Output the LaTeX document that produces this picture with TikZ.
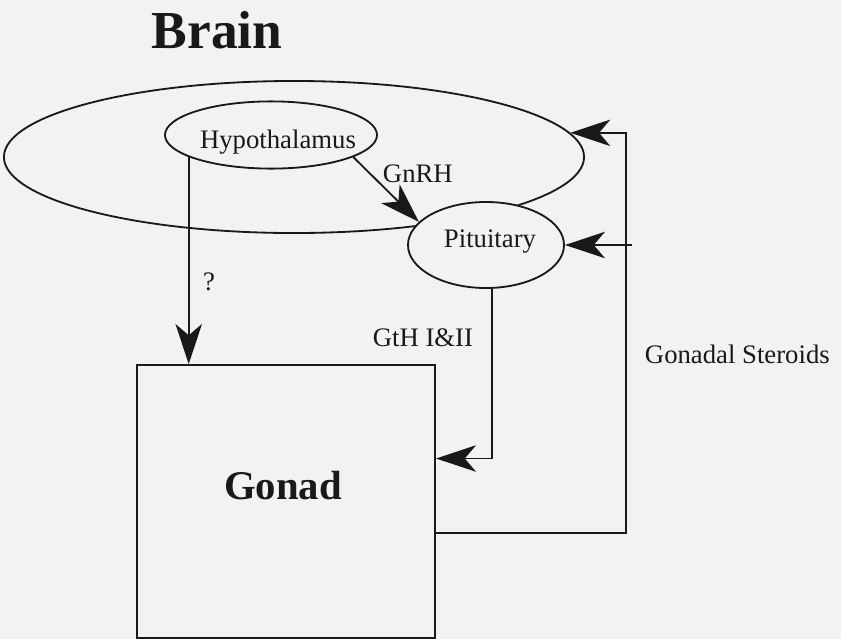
\documentclass[tikz,border=0pt]{standalone}
\usepackage{fontspec}
\setmainfont{Liberation Serif}
\usetikzlibrary{arrows.meta, shapes.geometric}
\definecolor{scanpaper}{RGB}{242, 242, 242}
\definecolor{inkblack}{RGB}{25, 25, 25}

\tikzset{
  gland/.style={ellipse, draw=inkblack, line width=1.3pt, fill=scanpaper, inner sep=0pt},
  organbox/.style={rectangle, draw=inkblack, line width=1.3pt, inner sep=0pt},
  hormone/.style={draw=inkblack, line width=1.3pt, -{Stealth[length=1cm, width=0.66cm, inset=0.28cm]}},
  labeltext/.style={font=\fontsize{19}{22}\selectfont, text=inkblack},
  titletext/.style={font=\bfseries, text=inkblack}
}

\begin{document}
\begin{tikzpicture}[x=0.025cm, y=-0.025cm]
 % Paper
 \fill[scanpaper] (0,0) rectangle (841,639);
 \useasboundingbox (0,0) rectangle (841,639);

 % Brain outline and its title
 \node[gland, minimum width=14.5cm, minimum height=3.8cm] (brain) at (294,157) {};
 \node[titletext, anchor=base, font=\fontsize{38}{44}\selectfont\bfseries] (braintitle) at (217,48) {Brain};

 % Hypothalamus and pituitary
 \node[gland, minimum width=5.3cm, minimum height=1.68cm] (hyp) at (271,135) {};
 \node[labeltext, anchor=base] (hyptext) at (278,148) {Hypothalamus};
 \node[gland, minimum width=3.9cm, minimum height=2.15cm] (pit) at (486,245) {};
 \node[labeltext, anchor=base] (pittext) at (490,247) {Pituitary};

 % Gonad
 \node[organbox, minimum width=7.45cm, minimum height=6.825cm] (gonad) at (286,501.5) {};
 \node[titletext, anchor=base, font=\fontsize{29}{34}\selectfont\bfseries] (gonadtext) at (283,499) {Gonad};

 % GnRH
 \draw[hormone] (hyp.-15) -- (pit.161);
 \node[labeltext, anchor=base west] (gnrhtext) at (378,182) {GnRH};

 % Direct route, unknown
 \draw[hormone] (hyp.195) -- (hyp.195 |- gonad.north);
 \node[labeltext] (querytext) at (209,282) {?};

 % Gonadotropins
 \draw[hormone] (pit.-82) |- (gonad.16);
 \node[labeltext, anchor=base east] (gthtext) at (478,346) {GtH I\&II};

 % Steroid feedback
 \coordinate (feedx) at (626,0);
 \draw[hormone] (gonad.-12) -| (brain.5 -| feedx) -- (brain.5);
 \draw[hormone] (pit.east -| feedx) ++(6,0) -- (pit.east);
 \node[labeltext, anchor=base west] (steroidtext) at (640,363) {Gonadal Steroids};
\end{tikzpicture}
\end{document}
